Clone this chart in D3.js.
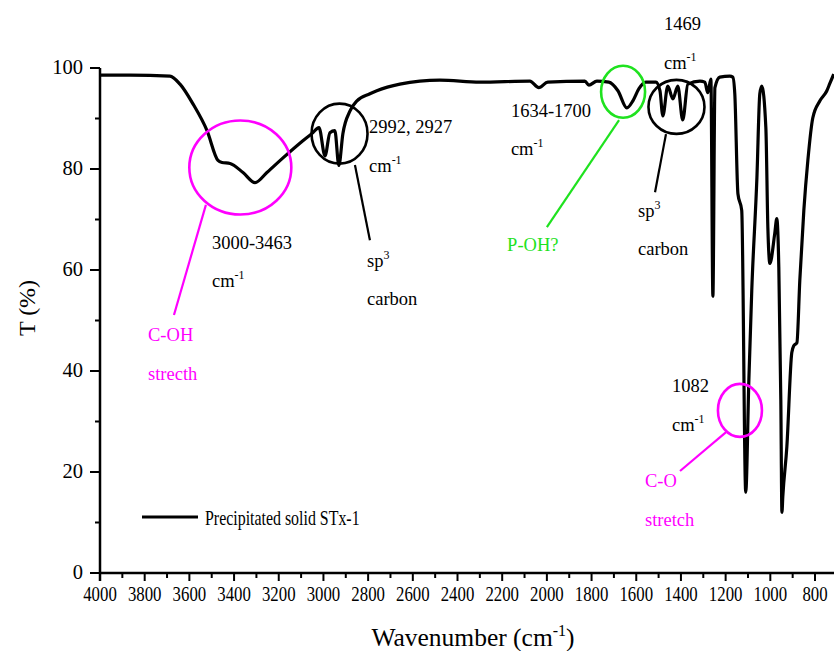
<!DOCTYPE html>
<html>
<head>
<meta charset="utf-8">
<script src="https://cdn.jsdelivr.net/npm/d3@7"></script>
<style>
  html, body { margin: 0; padding: 0; background: #fff; }
  svg { display: block; }
  text { font-family: "Liberation Serif", "Times New Roman", serif; fill: #000; }
</style>
</head>
<body>
<svg id="chart" width="834" height="651"></svg>
<script>
// FTIR spectrum of the precipitated solid (wavenumber in cm-1, transmittance in %)
const wavenumbers = [
  4000, 3866, 3687, 3642, 3584, 3521, 3472, 3454, 3418, 3360, 3306, 3253, 3181, 3092,
  3047, 3029, 3020, 2993, 2971, 2949, 2931, 2913, 2881, 2850, 2792, 2761, 2658, 2479,
  2300, 2076, 2036, 1996, 1830, 1812, 1776, 1723, 1682, 1642, 1615, 1588, 1557, 1512,
  1494, 1481, 1459, 1436, 1414, 1392, 1369, 1315, 1293, 1280, 1266, 1257, 1248, 1226,
  1181, 1168, 1159, 1145, 1128, 1110, 1096, 1083, 1060, 1047, 1038, 1020, 1011, 1002,
  980, 971, 962, 953, 948, 944, 926, 904, 895, 881, 868, 850, 832, 810, 778, 747, 734, 716
];
const transmittance = [
  98.6, 98.6, 98.4, 96.8, 92.9, 87.6, 81.7, 81.3, 81.1, 79.3, 77.3, 79.3, 82.2, 85.6,
  87.2, 88.0, 88.2, 82.6, 87.2, 87.6, 80.7, 87.0, 91.5, 93.5, 94.9, 95.5, 96.8, 97.6,
  97.2, 97.4, 96.1, 97.2, 97.4, 96.6, 97.4, 97.2, 95.5, 92.1, 93.5, 95.9, 97.2, 97.2,
  95.5, 90.5, 96.4, 93.9, 96.4, 89.7, 96.8, 97.4, 97.2, 95.1, 97.8, 54.8, 96.1, 98.2,
  98.4, 98.2, 94.9, 75.1, 71.8, 16.0, 38.3, 56.0, 78.3, 94.9, 96.4, 88.2, 68.4, 61.3,
  67.3, 70.2, 60.6, 34.3, 12.0, 15.2, 25.0, 43.6, 45.0, 45.6, 58.0, 71.8, 81.7, 90.1,
  93.5, 95.5, 96.9, 98.8
];
const seriesName = "Precipitated solid STx-1";

// Axis ticks
const xTickValues = [4000, 3800, 3600, 3400, 3200, 3000, 2800, 2600, 2400, 2200, 2000, 1800, 1600, 1400, 1200, 1000, 800];
const xMinorTicks = [3900, 3700, 3500, 3300, 3100, 2900, 2700, 2500, 2300, 2100, 1900, 1700, 1500, 1300, 1100, 900, 700];
const yTickValues = [0, 20, 40, 60, 80, 100];
const yMinorTicks = [10, 30, 50, 70, 90];

// Band assignments: marker centre (wavenumber, %T) and leader line ends
const bandMarkers = [
  { w: 3372, t: 80.3, rx: 51, ry: 47, color: "#ff00ff", from: [3526, 72.9], to: [3669, 51.1] },
  { w: 2928, t: 87.0, rx: 28, ry: 30, color: "#000000", from: [2859, 80.8], to: [2792, 65.9] },
  { w: 1659, t: 95.3, rx: 22, ry: 26, color: "#1fe21f", from: [1677, 89.7], to: [2000, 68.5] },
  { w: 1420, t: 92.3, rx: 28, ry: 27, color: "#000000", from: [1467, 86.9], to: [1516, 75.4] },
  { w: 1136, t: 32.2, rx: 22, ry: 26.5, color: "#ff00ff", from: [1198, 27.9], to: [1404, 20.2] }
];
// Two-line labels: [first line, second line], anchored at (wavenumber, %T) of the first baseline
const bandLabels = [
  { w: 3499, t: 64.2, lines: ["3000-3463", "cm|-1"], color: "#000000" },
  { w: 3785, t: 45.9, lines: ["C-OH", "strecth"], color: "#ff00ff" },
  { w: 2796, t: 87.1, lines: ["2992, 2927", "cm|-1"], color: "#000000" },
  { w: 2805, t: 60.6, lines: ["sp|3", "carbon"], color: "#000000" },
  { w: 2161, t: 90.3, lines: ["1634-1700", "cm|-1"], color: "#000000" },
  { w: 2178, t: 63.8, lines: ["P-OH?"], color: "#1fe21f" },
  { w: 1592, t: 70.5, lines: ["sp|3", "carbon"], color: "#000000" },
  { w: 1476, t: 107.5, lines: ["1469", "cm|-1"], color: "#000000" },
  { w: 1440, t: 35.8, lines: ["1082", "cm|-1"], color: "#000000" },
  { w: 1561, t: 17.0, lines: ["C-O", "stretch"], color: "#ff00ff" }
];

const svg = d3.select("#chart");
const x = d3.scaleLinear().domain([4000, 715]).range([100, 834]);
const y = d3.scaleLinear().domain([0, 100]).range([573, 68]);

// Axes
const xAxis = svg.append("g").attr("transform", "translate(0,573)");
xAxis.append("line").attr("x1", 100).attr("x2", 834).attr("stroke", "#000").attr("stroke-width", 2.5);
xAxis.selectAll(".maj").data(xTickValues).join("line")
  .attr("x1", d => x(d)).attr("x2", d => x(d)).attr("y1", 0).attr("y2", 8)
  .attr("stroke", "#000").attr("stroke-width", 2);
xAxis.selectAll(".min").data(xMinorTicks.filter(d => x(d) <= 834)).join("line")
  .attr("x1", d => x(d)).attr("x2", d => x(d)).attr("y1", 0).attr("y2", 5)
  .attr("stroke", "#000").attr("stroke-width", 2);
xAxis.selectAll("text").data(xTickValues).join("text")
  .attr("transform", d => `translate(${x(d)},28) scale(0.84,1)`)
  .attr("text-anchor", "middle").attr("font-size", 20).text(d => d);

const yAxis = svg.append("g").attr("transform", "translate(100,0)");
yAxis.append("line").attr("y1", y(100)).attr("y2", 581).attr("stroke", "#000").attr("stroke-width", 2.5);
yAxis.selectAll(".maj").data(yTickValues).join("line")
  .attr("x1", -10).attr("x2", 0).attr("y1", d => y(d)).attr("y2", d => y(d))
  .attr("stroke", "#000").attr("stroke-width", 2);
yAxis.selectAll(".min").data(yMinorTicks).join("line")
  .attr("x1", -5).attr("x2", 0).attr("y1", d => y(d)).attr("y2", d => y(d))
  .attr("stroke", "#000").attr("stroke-width", 2);
yAxis.selectAll("text").data(yTickValues).join("text")
  .attr("x", -17).attr("y", d => y(d) + 6)
  .attr("text-anchor", "end").attr("font-size", 20.5).text(d => d);

// Axis titles
const xTitle = svg.append("text").attr("x", 473).attr("y", 646)
  .attr("text-anchor", "middle").attr("font-size", 25.5);
xTitle.append("tspan").text("Wavenumber (cm");
xTitle.append("tspan").attr("font-size", 16).attr("dy", -10).text("-1");
xTitle.append("tspan").attr("dy", 10).text(")");

svg.append("text").attr("transform", "translate(35,308) rotate(-90)")
  .attr("text-anchor", "middle").attr("font-size", 24).text("T (%)");

// Spectrum
const spectrum = wavenumbers.map((w, i) => ({ w, t: transmittance[i] }));
svg.append("path").datum(spectrum)
  .attr("fill", "none").attr("stroke", "#000").attr("stroke-width", 3.2)
  .attr("stroke-linejoin", "round")
  .attr("d", d3.line().x(d => x(d.w)).y(d => y(d.t)).curve(d3.curveMonotoneX));

// Band markers
const markers = svg.append("g");
bandMarkers.forEach(m => {
  markers.append("ellipse")
    .attr("cx", x(m.w)).attr("cy", y(m.t)).attr("rx", m.rx).attr("ry", m.ry)
    .attr("fill", "none").attr("stroke", m.color).attr("stroke-width", 2.6);
  markers.append("line")
    .attr("x1", x(m.from[0])).attr("y1", y(m.from[1]))
    .attr("x2", x(m.to[0])).attr("y2", y(m.to[1]))
    .attr("stroke", m.color).attr("stroke-width", 2.2);
});

// Band labels; "base|sup" marks a superscript
const labels = svg.append("g");
bandLabels.forEach(l => {
  l.lines.forEach((s, i) => {
    const t = labels.append("text")
      .attr("x", x(l.w)).attr("y", y(l.t) + i * 38.5)
      .attr("font-size", 18.5).style("fill", l.color);
    const parts = s.split("|");
    t.append("tspan").text(parts[0]);
    if (parts[1]) t.append("tspan").attr("font-size", 12).attr("dy", -8).text(parts[1]);
  });
});

// Legend
const legend = svg.append("g");
legend.append("line").attr("x1", 142).attr("x2", 198).attr("y1", 517).attr("y2", 517)
  .attr("stroke", "#000").attr("stroke-width", 3);
legend.append("text").attr("transform", "translate(205,525) scale(0.74,1)")
  .attr("font-size", 21.5).text(seriesName);
</script>
</body>
</html>
